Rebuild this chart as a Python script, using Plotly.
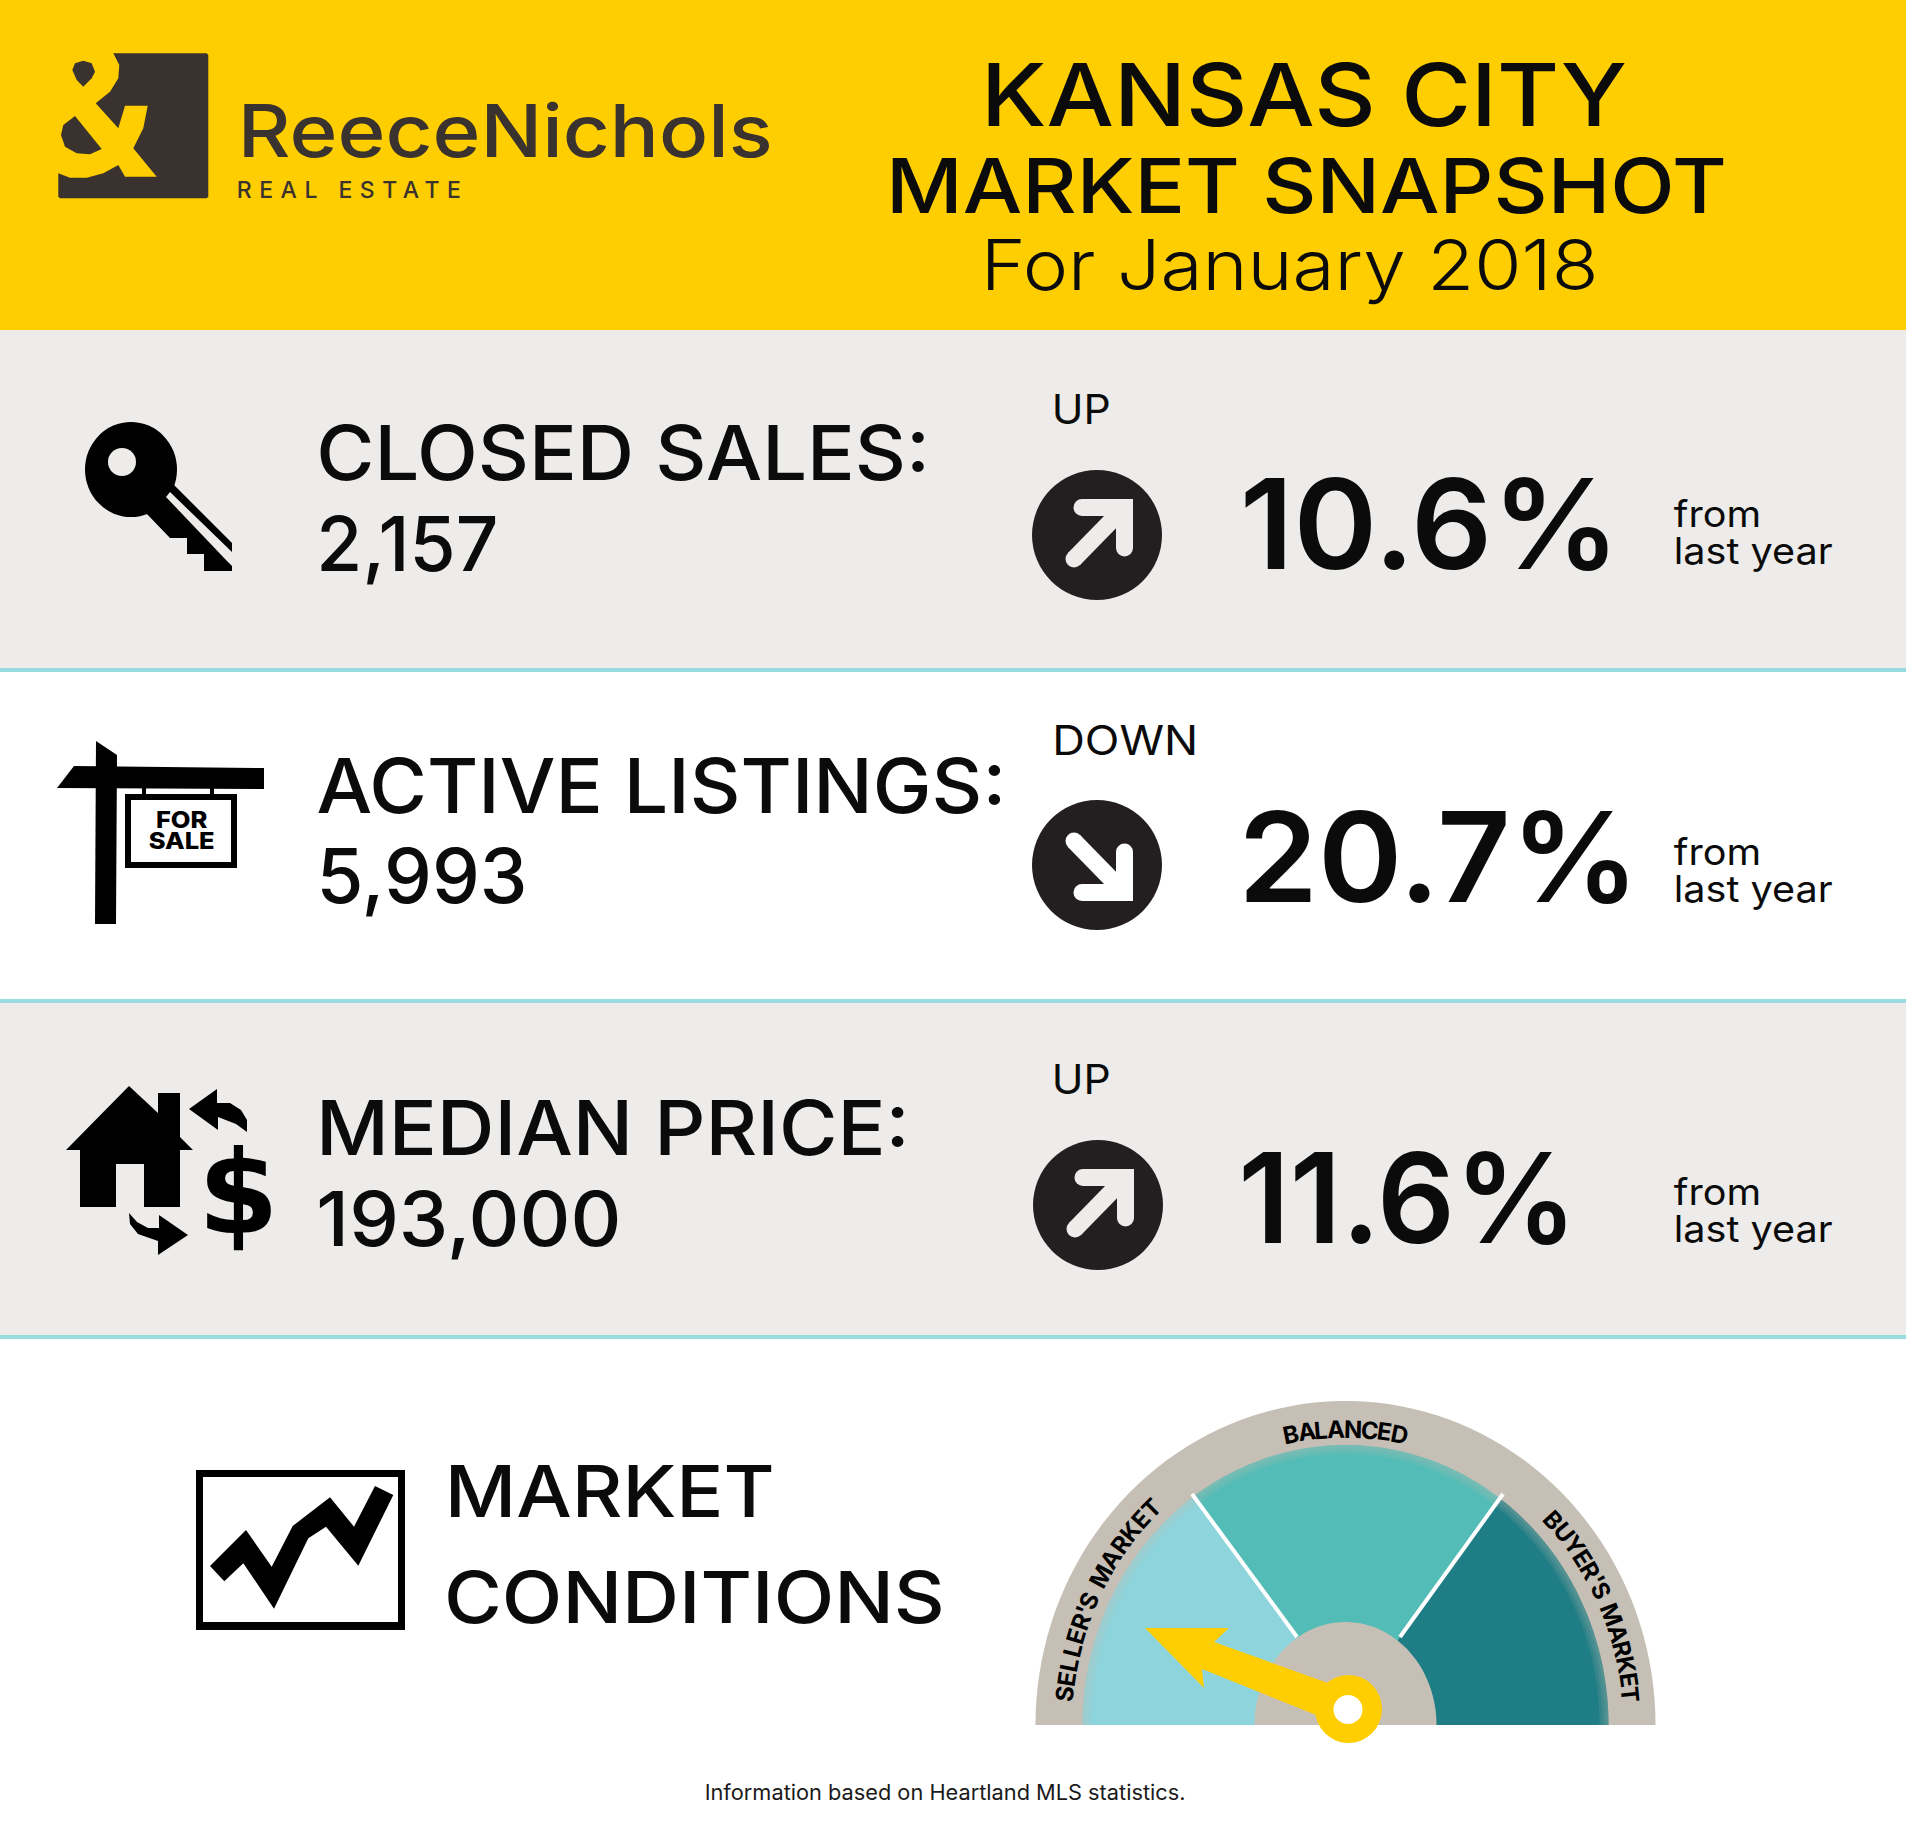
import json
import numpy as np
import plotly.graph_objects as go

# ---- data ----
CITY = "KANSAS CITY"
TITLE = "MARKET SNAPSHOT"
PERIOD = "For January 2018"
BRAND = "ReeceNichols"
BRAND_SUB = "REAL ESTATE"
METRICS = ["CLOSED SALES:", "ACTIVE LISTINGS:", "MEDIAN PRICE:"]
VALUES = [2157, 5993, 193000]
DIRECTIONS = ["UP", "DOWN", "UP"]
CHANGES = [10.6, 20.7, 11.6]
COMPARE = "from<br>last year"
SIGN = "FOR<br>SALE"
CONDITIONS = ["MARKET", "CONDITIONS"]
ZONES = ["SELLER'S MARKET", "BALANCED", "BUYER'S MARKET"]
FOOTNOTE = "Information based on Heartland MLS statistics."

# ---- styles / layout ----
W, H = 1906, 1830
YEL, GRAY, TEAL, INK, LOGO = "#FFCE00", "#EDECEA", "#98DCE0", "#0B0B0B", "#3A322E"
DISC = "#231F20"
BAND = "#C5BFB5"
ZONE_COL = ["#8DD4DC", "#53BCB6", "#1F7E85"]
FONT = "Inter"
shapes, notes = [], []
FIT, SPACED, PITCH = {}, {}, {}


def rect(x0, y0, x1, y1, c):
    shapes.append(dict(type="rect", xref="x", yref="y", x0=x0, y0=y0, x1=x1, y1=y1,
                       fillcolor=c, line=dict(width=0), layer="above"))


def ell(cx, cy, rx, ry, c):
    shapes.append(dict(type="circle", xref="x", yref="y", x0=cx - rx, y0=cy - ry, x1=cx + rx, y1=cy + ry,
                       fillcolor=c, line=dict(width=0), layer="above"))


def poly(pts, c, op=1):
    p = "M" + " L".join(f"{x:.1f},{y:.1f}" for x, y in pts) + " Z"
    shapes.append(dict(type="path", xref="x", yref="y", path=p, fillcolor=c, opacity=op,
                       line=dict(width=0), layer="above"))


def seg(p, q, w, c, caps=True):
    (x0, y0), (x1, y1) = p, q
    d = np.hypot(x1 - x0, y1 - y0)
    nx, ny = -(y1 - y0) / d * w / 2, (x1 - x0) / d * w / 2
    poly([(x0 + nx, y0 + ny), (x1 + nx, y1 + ny), (x1 - nx, y1 - ny), (x0 - nx, y0 - ny)], c)
    if caps:
        ell(x0, y0, w / 2, w / 2, c)
        ell(x1, y1, w / 2, w / 2, c)


def txt(x, base, s, size, weight=400, color=INK, anchor="center", family=FONT, angle=0, centered=False, align="center"):
    y = base if centered else base - 0.365 * size
    notes.append(dict(x=x, y=y, xref="x", yref="y", text=s, showarrow=False, xanchor=anchor, yanchor="middle",
                      textangle=angle, borderpad=0, align=align,
                      font=dict(family=family, size=size, color=color, weight=weight)))


def fit(x0, x1, base, s, size, weight=400, color=INK):
    """Text whose ink runs from x0 to x1; the page script stretches it to that width."""
    txt((x0 + x1) / 2, base, s, size, weight, color)
    FIT[s] = x1 - x0


def fit2(x0, x1, base, s, size, pitch, weight=400, color=INK, align="left"):
    """Two-line text; base is the first baseline, pitch the distance to the second."""
    notes.append(dict(x=(x0 + x1) / 2, y=base + 0.285 * size, xref="x", yref="y", text=s, showarrow=False,
                      xanchor="center", yanchor="middle", borderpad=0, align=align,
                      font=dict(family=FONT, size=size, color=color, weight=weight)))
    FIT[s] = x1 - x0
    PITCH[s] = pitch / size


def arc(cx, cy, rx, ry, t0, t1, n=80):
    t = np.radians(np.linspace(t0, t1, n))
    return list(zip(cx + rx * np.cos(t), cy - ry * np.sin(t)))


# ---- backgrounds ----
rect(0, 0, W, 330, YEL)
rect(0, 330, W, 668, GRAY)
rect(0, 672, W, 999, "#FFFFFF")
rect(0, 1003, W, 1335, GRAY)
for y in (670, 1001, 1337):
    rect(0, y - 2, W, y + 2, TEAL)

# ---- logo ----
z = lambda pts: [(50 + a / 3, 45 + b / 3) for a, b in pts]
poly(z([(190, 25), (470, 25), (475, 30), (475, 455), (470, 460), (30, 460), (25, 455), (25, 385), (60, 398), (110, 398),
        (160, 385), (205, 360), (225, 395), (320, 395), (250, 310), (280, 250), (293, 182), (225, 182), (205, 250),
        (137, 175), (180, 140), (205, 100), (208, 60)]), LOGO)
poly(z([(67, 75), (75, 55), (100, 47), (125, 55), (135, 80), (125, 100), (100, 125), (80, 105)]), LOGO)
poly(z([(75, 213), (155, 312), (120, 328), (80, 325), (45, 305), (33, 270), (40, 240)]), LOGO)
fit(238, 773, 157, BRAND, 73, 500, LOGO)
txt(352, 198, BRAND_SUB, 23, 500, LOGO)
SPACED[BRAND_SUB] = 224

# ---- title ----
fit(981, 1627, 126, CITY, 87, 500)
fit(886, 1727, 213, TITLE, 76, 500)
fit(980, 1598, 290, PERIOD, 70, 300)

# ---- rows ----
ROW_LABEL = [480, 813, 1155]
ROW_VALUE = [571, 903, 1246]
ROW_DIR = [424, 755, 1094]
ROW_CIRCLE = [535, 865, 1205]
ROW_PCT = [569, 902, 1243]
ROW_FROM = [527, 865, 1205]
ROW_BG = [GRAY, "#FFFFFF", GRAY]
LABEL_X = [(316, 930), (316, 1006), (316, 910)]
VALUE_X = [(316, 498), (316, 527), (316, 621)]
DIR_X = [(1052, 1111), (1052, 1198), (1052, 1111)]
PCT_X = [(1240, 1620), (1238, 1639), (1238, 1577)]
for i, m in enumerate(METRICS):
    fit(*LABEL_X[i], ROW_LABEL[i], m, 76, 500)
    fit(*VALUE_X[i], ROW_VALUE[i], f"{VALUES[i]:,}", 75, 500)
    fit(*DIR_X[i], ROW_DIR[i], DIRECTIONS[i], 41, 400)
    cx, cy = 1097 + (1 if i == 2 else 0), ROW_CIRCLE[i]
    ell(cx, cy, 65, 65, DISC)
    s = 1 if DIRECTIONS[i] == "UP" else -1
    bg = ROW_BG[i]
    ax = cx - 2
    P = lambda a, b: (ax + a, cy + s * b)
    seg(P(-21, 24), P(22, -20), 17, bg)
    poly([P(-13, -36), P(38, -36), P(38, 13), P(21, 13), P(21, -19), P(-13, -19)], bg)
    ell(ax - 13, cy - s * 27.5, 8.5, 8.5, bg)
    ell(ax + 29.5, cy + s * 13, 8.5, 8.5, bg)
    fit(*PCT_X[i], ROW_PCT[i], f"{CHANGES[i]}%", 125, 600)
    fit2(1674, 1833, ROW_FROM[i], COMPARE, 37, 37)

# key icon
ell(131, 469.5, 46, 47.5, "#000000")
ell(122, 462, 14, 14, GRAY)
poly([(173, 484), (232, 543), (232, 571), (204, 571), (204, 554), (187, 554), (187, 538), (170, 538), (145, 512)], "#000000")
poly([(166, 497), (170, 492), (232, 552), (232, 566), (226, 560)], GRAY)

# for-sale sign icon
poly([(96, 741), (117, 755), (116, 924), (95, 924)], "#000000")
poly([(57, 788), (74, 766), (264, 768), (264, 789)], "#000000")
rect(142, 788, 146, 795, "#000000")
rect(210, 788, 214, 795, "#000000")
rect(125, 794, 237, 868, "#000000")
rect(131, 800, 231, 862, "#FFFFFF")
fit2(148, 214, 828, SIGN, 23, 21, 800, "#000000", "center")

# house icon
poly([(129, 1086), (158, 1113), (158, 1093), (180, 1093), (180, 1137), (193, 1150), (180, 1150), (180, 1207), (144, 1207),
      (144, 1164), (116, 1164), (116, 1207), (80, 1207), (80, 1150), (66, 1150)], "#000000")
poly([(189, 1109), (217, 1089), (217, 1103), (230, 1103), (241, 1110), (247, 1120), (247, 1132), (236, 1124), (218, 1117), (218, 1130)], "#000000")
poly([(188, 1235), (159, 1215), (159, 1228), (148, 1228), (137, 1222), (129, 1213), (130, 1224), (138, 1234), (158, 1241), (158, 1255)], "#000000")
txt(238, 1192, "$", 116, 700, "#000000", family="DejaVu Sans", centered=True)

# ---- market conditions ----
fit(444, 774, 1517, CONDITIONS[0], 72, 500)
fit(444, 945, 1623, CONDITIONS[1], 72, 500)
rect(196, 1470, 405, 1630, "#000000")
rect(203, 1477, 398, 1622, "#FFFFFF")
poly([(170 + a / 3, 1440 + b / 3) for a, b in [(120, 378), (228, 270), (305, 380), (368, 258), (480, 172), (552, 260), (615, 138),
     (670, 165), (565, 377), (468, 260), (415, 295), (312, 506), (220, 370), (163, 424)]], "#000000")

# ---- gauge ----
GX, GY = 1345.5, 1725
AX, AY = 1348, 1709
T_L, T_R = 125, 54
IRX, IRY = 263, 280
poly(arc(GX, GY, 310, 324, 0, 180), BAND)
poly(arc(GX, GY, IRX, IRY, T_L, 180) + [(GX, GY), (AX, AY)], ZONE_COL[0])
poly(arc(GX, GY, IRX, IRY, T_R, T_L) + [(AX, AY)], ZONE_COL[1])
poly(arc(GX, GY, IRX, IRY, 0, T_R) + [(AX, AY), (GX, GY)], ZONE_COL[2])
for d in (3, 6, 9):  # soft inner edge of the coloured zones
    poly(arc(GX, GY, IRX, IRY, 0, 180) + arc(GX, GY, IRX - d, IRY - d, 180, 0), BAND, 0.12)
seg((1192, 1494), (1297, 1637), 4, "#FFFFFF", caps=False)
seg((1503, 1494), (1400, 1637), 4, "#FFFFFF", caps=False)
poly(arc(GX, GY, 91, 103, 0, 180), BAND)
poly([(1145, 1628), (1229, 1628), (1214, 1642), (1328, 1683), (1321, 1717), (1202, 1669), (1204, 1688)], YEL)
ell(1348.5, 1709, 33.5, 34, YEL)
ell(1348, 1709.5, 14.5, 14.5, "#FFFFFF")


def arc_text(s, t0, t1, rx=286, ry=298, size=24):
    ts = np.radians(np.linspace(t0, t1, 600))
    xs, ys = GX + rx * np.cos(ts), GY - ry * np.sin(ts)
    cum = np.concatenate([[0], np.cumsum(np.hypot(np.diff(xs), np.diff(ys)))])
    wid = {"I": .4, "'": .35, " ": .4, "M": 1.15, "L": .72, "E": .76, "R": .82, "S": .8, "Y": .82, "T": .78, "A": .92,
           "B": .84, "U": .9, "K": .84, "N": .95, "C": .9, "D": .93}
    w = np.array([wid.get(c, .85) for c in s])
    mid = (np.cumsum(w) - w / 2) / w.sum() * cum[-1]
    for ch, m in zip(s, mid):
        if ch == " ":
            continue
        j = min(int(np.searchsorted(cum, m)), len(ts) - 1)
        t = ts[j]
        ang = np.degrees(np.arctan2(ry * np.cos(t), rx * np.sin(t)))
        txt(xs[j], ys[j], ch, size, 700, "#000000", angle=float(ang), centered=True)


arc_text(ZONES[0], 175.5, 132, rx=282)
arc_text(ZONES[1], 102.5, 77.5, ry=296)
arc_text(ZONES[2], 45, 4.5)

fit(704, 1185, 1800, FOOTNOTE, 21, 400, "#1A1A1A")

# ---- figure ----
fig = go.Figure()
fig.update_layout(width=W, height=H, margin=dict(l=0, r=0, t=0, b=0), plot_bgcolor="#FFFFFF", paper_bgcolor="#FFFFFF",
                  shapes=shapes, annotations=notes, showlegend=False,
                  xaxis=dict(range=[0, W], visible=False, fixedrange=True),
                  yaxis=dict(range=[H, 0], visible=False, fixedrange=True))

PAGE_JS = """
document.body.style.margin = '0';
var FIT = %s, SPACED = %s, PITCH = %s;
document.querySelectorAll('.annotation-text').forEach(function (t) {
  var s = t.getAttribute('data-unformatted');
  if (PITCH[s]) {
    var lines = t.querySelectorAll('tspan.line');
    if (lines.length > 1) lines[1].setAttribute('dy', PITCH[s] + 'em');
  }
  if (SPACED[s]) {
    var w0 = t.getBBox().width;
    t.style.letterSpacing = ((SPACED[s] - w0) / (s.length - 1)) + 'px';
  }
  if (FIT[s]) {
    var b = t.getBBox(), k = FIT[s] / b.width, c = b.x + b.width / 2;
    t.setAttribute('transform', 'translate(' + (c * (1 - k)) + ' 0) scale(' + k + ' 1)');
  }
});
""" % (json.dumps(FIT), json.dumps(SPACED), json.dumps(PITCH))

fig.write_html("out.html", post_script=PAGE_JS, config={"displayModeBar": False})
